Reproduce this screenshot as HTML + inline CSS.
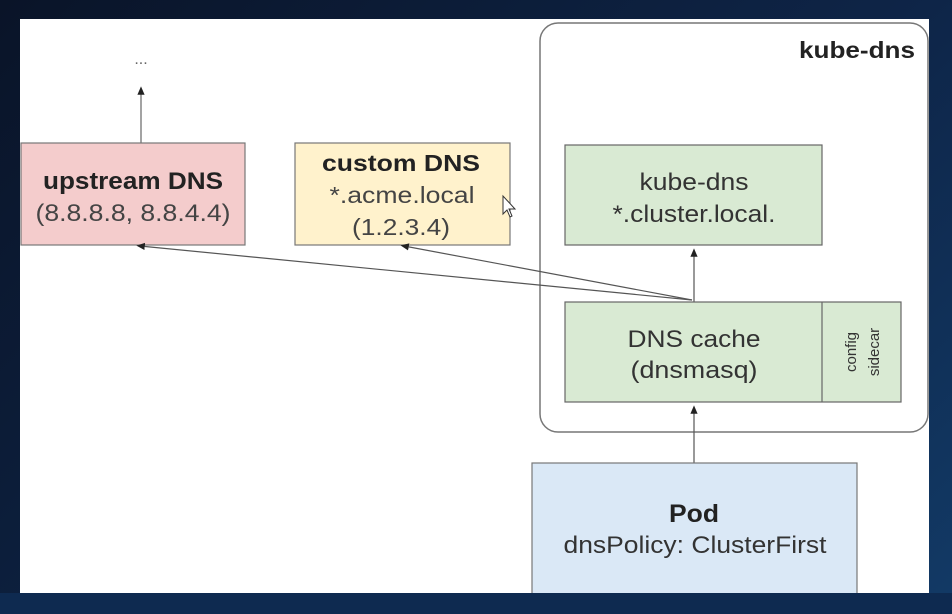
<!DOCTYPE html>
<html><head><meta charset="utf-8"><style>
body{margin:0;width:952px;height:614px;overflow:hidden;background:linear-gradient(135deg,#0a1428 0%,#0e2548 60%,#123a66 100%);font-family:"Liberation Sans",sans-serif;}
svg{position:absolute;left:0;top:0}
text{font-family:"Liberation Sans",sans-serif}
</style></head><body>
<svg width="952" height="614" viewBox="0 0 952 614">
<defs><marker id="a" markerWidth="8" markerHeight="8" refX="4" refY="4" orient="auto"><path d="M0,1 L7,4 L0,7z" fill="#222"/></marker></defs>
<rect x="20" y="19" width="909" height="574" fill="#fff"/>
<rect x="540" y="23" width="388" height="409" rx="18" fill="none" stroke="#777" stroke-width="1.5"/>
<text x="915" y="58" text-anchor="end" font-size="23" font-weight="bold" fill="#222" textLength="116" lengthAdjust="spacingAndGlyphs">kube-dns</text>
<text x="141" y="64" text-anchor="middle" font-size="16" fill="#666">...</text>
<line x1="141" y1="143" x2="141" y2="90" stroke="#666" stroke-width="1.2" marker-end="url(#a)"/>
<rect x="21" y="143" width="224" height="102" fill="#f4cccc" stroke="#777" stroke-width="1.2"/>
<text x="133" y="189" text-anchor="middle" font-size="24" font-weight="bold" fill="#222" textLength="180" lengthAdjust="spacingAndGlyphs">upstream DNS</text>
<text x="133" y="221" text-anchor="middle" font-size="24" fill="#444" textLength="195" lengthAdjust="spacingAndGlyphs">(8.8.8.8, 8.8.4.4)</text>
<rect x="295" y="143" width="215" height="102" fill="#fff2cc" stroke="#777" stroke-width="1.2"/>
<text x="401" y="171" text-anchor="middle" font-size="23" font-weight="bold" fill="#222" textLength="158" lengthAdjust="spacingAndGlyphs">custom DNS</text>
<text x="402" y="203" text-anchor="middle" font-size="23" fill="#444" textLength="145" lengthAdjust="spacingAndGlyphs">*.acme.local</text>
<text x="401" y="235" text-anchor="middle" font-size="23" fill="#444" textLength="98" lengthAdjust="spacingAndGlyphs">(1.2.3.4)</text>
<rect x="565" y="145" width="257" height="100" fill="#d9ead3" stroke="#666" stroke-width="1.2"/>
<text x="694" y="190" text-anchor="middle" font-size="24" fill="#333" textLength="109" lengthAdjust="spacingAndGlyphs">kube-dns</text>
<text x="694" y="222" text-anchor="middle" font-size="24" fill="#333" textLength="163" lengthAdjust="spacingAndGlyphs">*.cluster.local.</text>
<line x1="694" y1="302" x2="694" y2="252" stroke="#555" stroke-width="1.2" marker-end="url(#a)"/>
<line x1="692" y1="300" x2="140" y2="246" stroke="#555" stroke-width="1.2" marker-end="url(#a)"/>
<line x1="692" y1="300" x2="404" y2="246" stroke="#555" stroke-width="1.2" marker-end="url(#a)"/>
<rect x="565" y="302" width="336" height="100" fill="#d9ead3" stroke="#666" stroke-width="1.2"/>
<line x1="822" y1="302" x2="822" y2="402" stroke="#666" stroke-width="1.2"/>
<text x="694" y="347" text-anchor="middle" font-size="24" fill="#333" textLength="133" lengthAdjust="spacingAndGlyphs">DNS cache</text>
<text x="694" y="378" text-anchor="middle" font-size="24" fill="#333" textLength="127" lengthAdjust="spacingAndGlyphs">(dnsmasq)</text>
<text transform="translate(856,352) rotate(-90)" text-anchor="middle" font-size="15" fill="#333">config</text>
<text transform="translate(879,352) rotate(-90)" text-anchor="middle" font-size="15" fill="#333">sidecar</text>
<line x1="694" y1="463" x2="694" y2="409" stroke="#555" stroke-width="1.2" marker-end="url(#a)"/>
<rect x="532" y="463" width="325" height="132" fill="#dae8f6" stroke="#777" stroke-width="1.2"/>
<text x="694" y="522" text-anchor="middle" font-size="25" font-weight="bold" fill="#222" textLength="50" lengthAdjust="spacingAndGlyphs">Pod</text>
<text x="695" y="553" text-anchor="middle" font-size="24" fill="#333" textLength="263" lengthAdjust="spacingAndGlyphs">dnsPolicy: ClusterFirst</text>
<rect x="0" y="593" width="952" height="21" fill="#0e2a50"/>
<path d="M503,196 v18 l4,-4 l3,7 l2,-1 l-3,-7 h6z" fill="#fff" stroke="#333" stroke-width="1"/>
</svg>
</body></html>
